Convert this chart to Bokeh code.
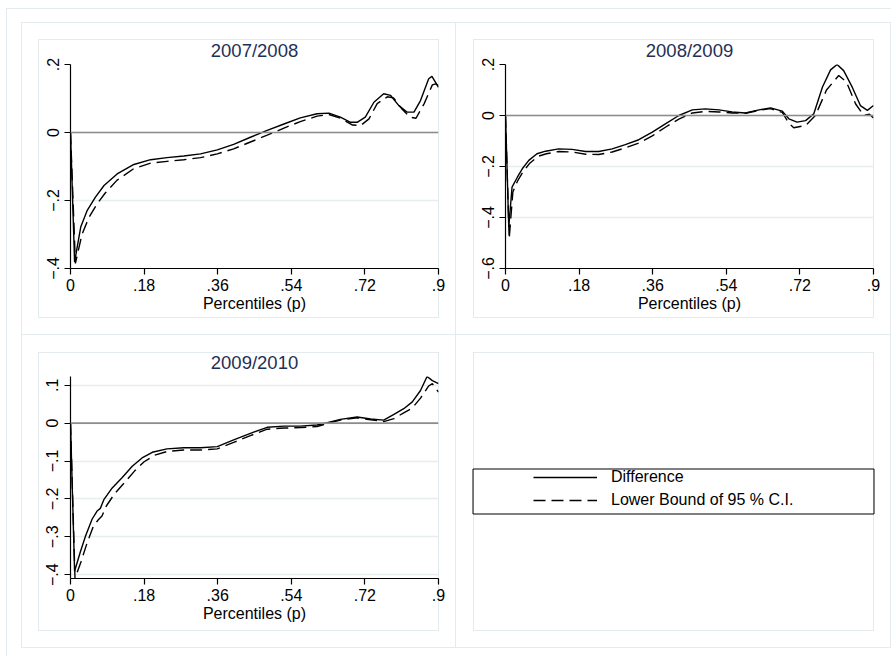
from bokeh.plotting import figure
from bokeh.models import (FixedTicker, Span, BoxAnnotation, Legend, LegendItem,
                          Range1d, ColumnDataSource)
from bokeh.layouts import column, row
from bokeh.embed import file_html
from bokeh.resources import INLINE

FONT = "Liberation Sans"
LIGHT = "#e3ebee"

# Percentile ticks shared by all panels
x_ticks = [0, 0.18, 0.36, 0.54, 0.72, 0.9]
x_tick_labels = ["0", ".18", ".36", ".54", ".72", ".9"]

# ---- 2007/2008 ----
p_diff_0708 = [0.000, 0.010, 0.025, 0.041, 0.061, 0.082, 0.114, 0.155, 0.196, 0.236, 0.277,
               0.318, 0.359, 0.399, 0.440, 0.481, 0.522, 0.562, 0.603, 0.632, 0.660, 0.685,
               0.701, 0.721, 0.742, 0.766, 0.783, 0.803, 0.823, 0.840, 0.856, 0.876, 0.884, 0.900]
diff_0708 = [0.000, -0.381, -0.278, -0.229, -0.190, -0.156, -0.122, -0.094, -0.080, -0.074, -0.069,
             -0.063, -0.051, -0.035, -0.014, 0.006, 0.025, 0.043, 0.055, 0.057, 0.045, 0.030,
             0.030, 0.045, 0.089, 0.114, 0.109, 0.079, 0.060, 0.060, 0.094, 0.158, 0.165, 0.133]
p_lb_0708 = [0.000, 0.012, 0.028, 0.045, 0.065, 0.085, 0.114, 0.155, 0.196, 0.236, 0.277,
             0.318, 0.359, 0.399, 0.440, 0.481, 0.522, 0.562, 0.603, 0.632, 0.660, 0.690,
             0.710, 0.730, 0.750, 0.775, 0.790, 0.810, 0.830, 0.845, 0.865, 0.885, 0.893, 0.900]
lb_0708 = [0.000, -0.385, -0.300, -0.250, -0.210, -0.178, -0.140, -0.106, -0.090, -0.085, -0.080,
           -0.074, -0.063, -0.048, -0.028, -0.008, 0.013, 0.032, 0.048, 0.053, 0.042, 0.022,
           0.021, 0.040, 0.085, 0.105, 0.102, 0.070, 0.045, 0.042, 0.085, 0.140, 0.143, 0.138]
y_ticks_0708 = [-0.4, -0.2, 0.0, 0.2]

# ---- 2008/2009 ----
p_diff_0809 = [0.000, 0.008, 0.016, 0.029, 0.041, 0.057, 0.077, 0.098, 0.130, 0.163, 0.196,
               0.228, 0.261, 0.293, 0.326, 0.359, 0.391, 0.424, 0.457, 0.489, 0.522, 0.554,
               0.587, 0.620, 0.648, 0.677, 0.693, 0.713, 0.734, 0.754, 0.775, 0.795, 0.811,
               0.827, 0.848, 0.868, 0.885, 0.900]
diff_0809 = [0.000, -0.438, -0.281, -0.242, -0.209, -0.176, -0.150, -0.140, -0.131, -0.133, -0.141,
             -0.141, -0.131, -0.114, -0.095, -0.065, -0.033, 0.000, 0.022, 0.026, 0.022, 0.014,
             0.010, 0.022, 0.030, 0.017, -0.013, -0.026, -0.020, 0.007, 0.111, 0.179, 0.200,
             0.176, 0.111, 0.039, 0.020, 0.039]
p_lb_0809 = [0.000, 0.009, 0.018, 0.030, 0.043, 0.060, 0.080, 0.100, 0.130, 0.163, 0.196,
             0.228, 0.261, 0.293, 0.326, 0.359, 0.391, 0.424, 0.457, 0.489, 0.522, 0.554,
             0.587, 0.620, 0.648, 0.677, 0.693, 0.705, 0.734, 0.758, 0.785, 0.815, 0.834,
             0.856, 0.876, 0.890, 0.900]
lb_0809 = [0.000, -0.484, -0.300, -0.255, -0.220, -0.186, -0.160, -0.150, -0.141, -0.143, -0.152,
           -0.153, -0.143, -0.127, -0.108, -0.080, -0.046, -0.014, 0.010, 0.016, 0.014, 0.010,
           0.009, 0.020, 0.027, 0.012, -0.030, -0.048, -0.039, 0.000, 0.100, 0.157, 0.131,
           0.046, 0.000, 0.005, -0.010]
y_ticks_0809 = [-0.6, -0.4, -0.2, 0.0, 0.2]

# ---- 2009/2010 ----
p_diff_0910 = [0.000, 0.010, 0.024, 0.037, 0.053, 0.065, 0.073, 0.082, 0.102, 0.126, 0.151,
               0.175, 0.200, 0.236, 0.277, 0.318, 0.359, 0.399, 0.440, 0.481, 0.522, 0.562,
               0.603, 0.628, 0.660, 0.701, 0.734, 0.766, 0.791, 0.815, 0.836, 0.856, 0.872,
               0.885, 0.900]
diff_0910 = [0.000, -0.391, -0.340, -0.297, -0.253, -0.232, -0.225, -0.201, -0.171, -0.144, -0.114,
             -0.092, -0.077, -0.068, -0.065, -0.065, -0.062, -0.044, -0.027, -0.011, -0.008, -0.008,
             -0.005, 0.001, 0.010, 0.016, 0.011, 0.008, 0.023, 0.038, 0.056, 0.086, 0.123,
             0.112, 0.104]
p_lb_0910 = [0.000, 0.011, 0.026, 0.040, 0.056, 0.068, 0.077, 0.088, 0.108, 0.132, 0.157,
             0.180, 0.205, 0.236, 0.277, 0.318, 0.359, 0.399, 0.440, 0.481, 0.522, 0.562,
             0.603, 0.628, 0.660, 0.701, 0.734, 0.766, 0.791, 0.815, 0.836, 0.856, 0.876,
             0.885, 0.900]
lb_0910 = [0.000, -0.410, -0.365, -0.318, -0.272, -0.255, -0.245, -0.218, -0.186, -0.157, -0.126,
           -0.102, -0.085, -0.075, -0.071, -0.071, -0.068, -0.051, -0.033, -0.016, -0.013, -0.012,
           -0.009, -0.001, 0.008, 0.014, 0.009, 0.004, 0.012, 0.027, 0.040, 0.066, 0.098,
           0.104, 0.082]
y_ticks_0910 = [-0.4, -0.3, -0.2, -0.1, 0.0, 0.1]

legend_labels = ["Difference", "Lower Bound of 95 % C.I."]
DASH = "12 6"

# cell size (each figure fills one cell of the 2x2 grid)
CW, CH = 435, 313

# faint cell edges drawn as inset shadows; the inner ring sits 17px inside the cell
EDGE = {"l": f"inset 1px 0 0 0 {LIGHT}", "r": f"inset -1px 0 0 0 {LIGHT}",
        "t": f"inset 0 1px 0 0 {LIGHT}", "b": f"inset 0 -1px 0 0 {LIGHT}"}
RING = f"inset 0 0 0 17px white, inset 0 0 0 18px {LIGHT}"


def cell_styles(edges):
    return {"box-shadow": ", ".join([EDGE[e] for e in edges] + [RING])}


def tick_text(v):
    if abs(v) < 1e-12:
        return "0"
    s = f"{abs(v):g}".lstrip("0")
    return ("\u2212" if v < 0 else "") + s


def panel(title, px, dy, plb, lb, yticks, borders, edges):
    y0 = min(min(lb), min(dy), yticks[0])
    y1 = max(max(dy), max(lb), yticks[-1])
    left, right, top, bottom = borders
    p = figure(width=CW, height=CH, output_backend="svg", toolbar_location=None,
               x_range=Range1d(0, 0.9), y_range=Range1d(y0, y1),
               min_border_left=left, min_border_right=right,
               min_border_top=top, min_border_bottom=bottom,
               background_fill_color=None, border_fill_color=None,
               outline_line_color=None, title=title, styles=cell_styles(edges))
    p.title.align = "center"
    p.title.text_font = FONT
    p.title.text_font_size = "18.5px"
    p.title.text_font_style = "normal"
    p.title.text_color = "#1f3057"
    p.title.standoff = 8

    p.xaxis.ticker = FixedTicker(ticks=x_ticks)
    p.xaxis.major_label_overrides = {t: lab for t, lab in zip(x_ticks, x_tick_labels)}
    p.xaxis.axis_label = "Percentiles (p)"
    p.yaxis.ticker = FixedTicker(ticks=yticks)
    p.yaxis.major_label_overrides = {t: tick_text(t) for t in yticks}
    p.yaxis.major_label_orientation = "vertical"
    for ax in (p.xaxis, p.yaxis):
        ax.axis_line_color = "black"
        ax.axis_line_width = 1.2
        ax.major_tick_line_color = "black"
        ax.major_tick_line_width = 1.2
        ax.major_tick_in = 0
        ax.major_tick_out = 6
        ax.minor_tick_line_color = None
        ax.major_label_text_font = FONT
        ax.major_label_text_font_size = "16px"
        ax.major_label_text_color = "black"
        ax.major_label_standoff = 4
        ax.axis_label_text_font = FONT
        ax.axis_label_text_font_size = "16px"
        ax.axis_label_text_font_style = "normal"
        ax.axis_label_text_color = "black"
        ax.axis_label_standoff = 1
    p.yaxis.major_label_standoff = 6
    p.xgrid.grid_line_color = None
    p.ygrid.ticker = FixedTicker(ticks=yticks)
    p.ygrid.grid_line_color = "#e6eef0"
    p.ygrid.grid_line_width = 1.4

    p.add_layout(Span(location=0, dimension="width", line_color="#8c8c8c", line_width=1.6))
    p.line(px, dy, line_color="black", line_width=1.4)
    p.line(plb, lb, line_color="black", line_width=1.4, line_dash=DASH)
    return p


p1 = panel("2007/2008", p_diff_0708, diff_0708, p_lb_0708, lb_0708, y_ticks_0708,
           (49, 18, 42, 67), "ltrb")
p2 = panel("2008/2009", p_diff_0809, diff_0809, p_lb_0809, lb_0809, y_ticks_0809,
           (49, 18, 42, 67), "trb")
p3 = panel("2009/2010", p_diff_0910, diff_0910, p_lb_0910, lb_0910, y_ticks_0910,
           (49, 18, 41, 70), "lrb")

# legend cell: key lines carry a single undefined point so nothing is plotted
p4 = figure(width=CW, height=CH, output_backend="svg", toolbar_location=None,
            x_range=Range1d(0, 1), y_range=Range1d(0, 1),
            min_border=0, outline_line_color=None, background_fill_color=None,
            border_fill_color=None, styles=cell_styles("rb"))
p4.axis.visible = False
p4.grid.visible = False
key_src = ColumnDataSource(data=dict(x=[float("nan")], y=[float("nan")]))
r_solid = p4.line("x", "y", source=key_src, line_color="black", line_width=1.4)
r_dash = p4.line("x", "y", source=key_src, line_color="black", line_width=1.4, line_dash=DASH)
legend = Legend(items=[LegendItem(label=legend_labels[0], renderers=[r_solid]),
                       LegendItem(label=legend_labels[1], renderers=[r_dash])],
                location=(77, 68), orientation="vertical",
                border_line_color=None, background_fill_alpha=0,
                padding=0, margin=0, spacing=3,
                glyph_width=64, glyph_height=20, label_height=20, label_standoff=14,
                label_text_font=FONT, label_text_font_size="16px", label_text_color="black")
p4.add_layout(legend, "center")
p4.add_layout(BoxAnnotation(left=16.5, right=417.5, top=133.5, bottom=178.5,
                            left_units="canvas", right_units="canvas",
                            top_units="canvas", bottom_units="canvas",
                            fill_alpha=0, line_color="black", line_alpha=1, line_width=1))

# outer frame: a faint line 15px left of and 14px above the grid
page = column(row(p1, p2, spacing=0), row(p3, p4, spacing=0), spacing=0,
              margin=(22, 0, 0, 21),
              styles={"box-shadow": f"-2px -1px 0 12px white, -3px -2px 0 12px {LIGHT}"})
open("out.html", "w").write(file_html(page, INLINE))
